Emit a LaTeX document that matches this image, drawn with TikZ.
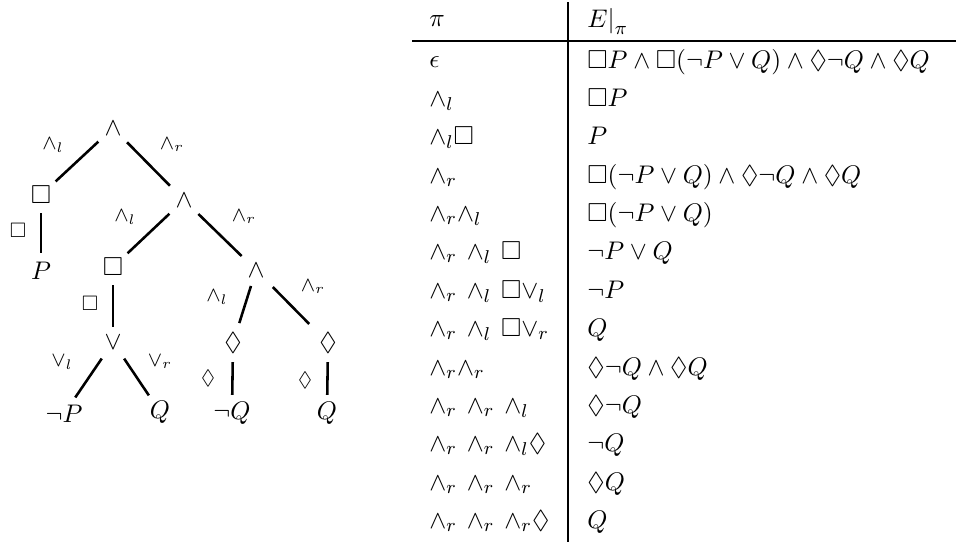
\documentclass[tikz,border=0pt]{standalone}
\usepackage{amssymb}
\begin{document}
\begin{tikzpicture}[x=0.43pt,y=-0.43pt,
  every node/.style={font=\fontsize{11.2}{14}\selectfont},
  tn/.style={inner sep=0pt},
  el/.style={inner sep=0pt,font=\fontsize{9}{11}\selectfont},
  edge/.style={line width=1.1pt,shorten <=8.6pt,shorten >=8.6pt},
  cell/.style={anchor=base west,inner sep=0pt},
  rule/.style={line width=0.9pt}]
\useasboundingbox (0,0) rectangle (956,542);
% tree nodes
\node[tn] (r) at (113,128) {$\wedge$};
\node[tn] (b1) at (41,195) {$\Box$};
\node[tn] (a2) at (184,200) {$\wedge$};
\node[tn] (p1) at (41,271) {$P$};
\node[tn] (b2) at (113,267) {$\Box$};
\node[tn] (a3) at (256,270) {$\wedge$};
\node[tn] (o) at (113,342) {$\vee$};
\node[tn] (np) at (64,414) {$\neg P$};
\node[tn] (q1) at (160,412) {$Q$};
\node[tn] (d1) at (233,343) {$\Diamond$};
\node[tn] (d2) at (328,343) {$\Diamond$};
\node[tn] (nq) at (232,413) {$\neg Q$};
\node[tn] (q2) at (327,413) {$Q$};
% edges
\draw[edge] (r.center) -- (b1.center);
\draw[edge] (r.center) -- (a2.center);
\draw[edge,shorten <=7.8pt,shorten >=7.8pt] (b1.center) -- (p1.center);
\draw[edge] (a2.center) -- (b2.center);
\draw[edge] (a2.center) -- (a3.center);
\draw[edge,shorten <=7.8pt,shorten >=6.5pt] (b2.center) -- (o.center);
\draw[edge] (o.center) -- (np.center);
\draw[edge] (o.center) -- (q1.center);
\draw[edge,shorten <=7.2pt,shorten >=9pt] (a3.center) -- (d1.center);
\draw[edge,shorten <=10.3pt,shorten >=11.5pt] (a3.center) -- (d2.center);
\draw[edge,shorten <=8.2pt,shorten >=7.8pt] (d1.center) -- (nq.center);
\draw[edge,shorten <=8.2pt,shorten >=7.8pt] (d2.center) -- (q2.center);
% edge labels
\node[el] (l1) at (53,145) {$\wedge_l$};
\node[el] (l2) at (172,145) {$\wedge_r$};
\node[el] (l3) at (18,230) {$\Box$};
\node[el] (l4) at (125,217) {$\wedge_l$};
\node[el] (l5) at (244,217) {$\wedge_r$};
\node[el] (l6) at (90,303) {$\Box$};
\node[el] (l7) at (62,362) {$\vee_l$};
\node[el] (l8) at (160,362) {$\vee_r$};
\node[el] (l9) at (217,297) {$\wedge_l$};
\node[el] (l10) at (313,287) {$\wedge_r$};
\node[el] (l11) at (208,378) {$\Diamond$};
\node[el] (l12) at (305,380) {$\Diamond$};
% table rules
\coordinate (vt) at (568,2);
\coordinate (vb) at (568,542);
\coordinate (hl) at (412,41);
\coordinate (hr) at (956,41);
\draw[rule] (vt) -- (vb);
\draw[rule] (hl) -- (hr);
% header
\node[cell] (h1) at (429,26) {$\pi$};
\node[cell] (h2) at (587,27) {$E\big|_{\pi}$};
% rows
\node[cell] (a1) at (429,67) {$\epsilon$};
\node[cell] (c1) at (587,68) {$\Box P \wedge \Box(\neg P \vee Q) \wedge \Diamond\neg Q \wedge \Diamond Q$};
\node[cell] (a2c) at (429,106) {$\wedge_l$};
\node[cell] (c2) at (587,106) {$\Box P$};
\node[cell] (a3c) at (429,144) {$\wedge_l\Box$};
\node[cell] (c3) at (587,144) {$P$};
\node[cell] (a4) at (429,183) {$\wedge_r$};
\node[cell] (c4) at (587,183) {$\Box(\neg P \vee Q) \wedge \Diamond\neg Q \wedge \Diamond Q$};
\node[cell] (a5) at (429,221) {$\wedge_r\wedge_l$};
\node[cell] (c5) at (587,221) {$\Box(\neg P \vee Q)$};
\node[cell] (a6) at (429,259) {$\wedge_r\,\wedge_l\,\Box$};
\node[cell] (c6) at (587,259) {$\neg P \vee Q$};
\node[cell] (a7) at (429,298) {$\wedge_r\,\wedge_l\,\Box\vee_l$};
\node[cell] (c7) at (587,298) {$\neg P$};
\node[cell] (a8) at (429,336) {$\wedge_r\,\wedge_l\,\Box\vee_r$};
\node[cell] (c8) at (587,336) {$Q$};
\node[cell] (a9) at (429,375) {$\wedge_r\wedge_r$};
\node[cell] (c9) at (587,375) {$\Diamond\neg Q \wedge \Diamond Q$};
\node[cell] (a10) at (429,413) {$\wedge_r\,\wedge_r\,\wedge_l$};
\node[cell] (c10) at (587,413) {$\Diamond\neg Q$};
\node[cell] (a11) at (429,451) {$\wedge_r\,\wedge_r\,\wedge_l\Diamond$};
\node[cell] (c11) at (587,451) {$\neg Q$};
\node[cell] (a12) at (429,490) {$\wedge_r\,\wedge_r\,\wedge_r$};
\node[cell] (c12) at (587,490) {$\Diamond Q$};
\node[cell] (a13) at (429,528) {$\wedge_r\,\wedge_r\,\wedge_r\Diamond$};
\node[cell] (c13) at (587,528) {$Q$};
\end{tikzpicture}
\end{document}
